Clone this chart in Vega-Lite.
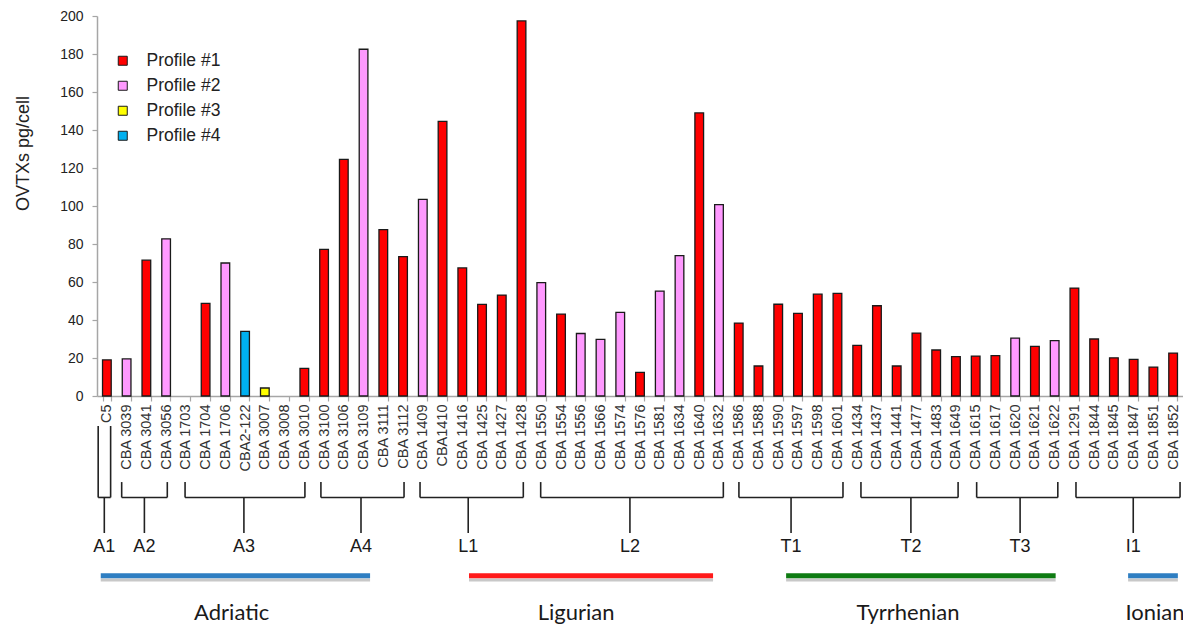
{
  "$schema": "https://vega.github.io/schema/vega-lite/v6.json",
  "autosize": {"type": "none"},
  "width": 1086,
  "height": 380,
  "padding": {"left": 97, "top": 16, "right": 0, "bottom": 228},
  "background": "white",
  "config": {"view": {"stroke": null}, "font": "Liberation Sans"},
  "datasets": {
    "bars": [
      {"strain": "C5", "ovtx": 19, "profile": "Profile #1"},
      {"strain": "CBA 3039", "ovtx": 19.5, "profile": "Profile #2"},
      {"strain": "CBA 3041", "ovtx": 71.5, "profile": "Profile #1"},
      {"strain": "CBA 3056", "ovtx": 82.7, "profile": "Profile #2"},
      {"strain": "CBA 1704", "ovtx": 48.7, "profile": "Profile #1"},
      {"strain": "CBA 1706", "ovtx": 70, "profile": "Profile #2"},
      {"strain": "CBA2-122", "ovtx": 34, "profile": "Profile #4"},
      {"strain": "CBA 3007", "ovtx": 4.2, "profile": "Profile #3"},
      {"strain": "CBA 3010", "ovtx": 14.5, "profile": "Profile #1"},
      {"strain": "CBA 3100", "ovtx": 77.2, "profile": "Profile #1"},
      {"strain": "CBA 3106", "ovtx": 124.5, "profile": "Profile #1"},
      {"strain": "CBA 3109", "ovtx": 182.5, "profile": "Profile #2"},
      {"strain": "CBA 3111", "ovtx": 87.6, "profile": "Profile #1"},
      {"strain": "CBA 3112", "ovtx": 73.4, "profile": "Profile #1"},
      {"strain": "CBA 1409", "ovtx": 103.5, "profile": "Profile #2"},
      {"strain": "CBA1410", "ovtx": 144.5, "profile": "Profile #1"},
      {"strain": "CBA 1416", "ovtx": 67.4, "profile": "Profile #1"},
      {"strain": "CBA 1425", "ovtx": 48.2, "profile": "Profile #1"},
      {"strain": "CBA 1427", "ovtx": 53.1, "profile": "Profile #1"},
      {"strain": "CBA 1428", "ovtx": 197.4, "profile": "Profile #1"},
      {"strain": "CBA 1550", "ovtx": 59.7, "profile": "Profile #2"},
      {"strain": "CBA 1554", "ovtx": 43.1, "profile": "Profile #1"},
      {"strain": "CBA 1556", "ovtx": 32.9, "profile": "Profile #2"},
      {"strain": "CBA 1566", "ovtx": 29.8, "profile": "Profile #2"},
      {"strain": "CBA 1574", "ovtx": 44, "profile": "Profile #2"},
      {"strain": "CBA 1576", "ovtx": 12.4, "profile": "Profile #1"},
      {"strain": "CBA 1581", "ovtx": 55.2, "profile": "Profile #2"},
      {"strain": "CBA 1634", "ovtx": 73.9, "profile": "Profile #2"},
      {"strain": "CBA 1640", "ovtx": 149, "profile": "Profile #1"},
      {"strain": "CBA 1632", "ovtx": 100.7, "profile": "Profile #2"},
      {"strain": "CBA 1586", "ovtx": 38.4, "profile": "Profile #1"},
      {"strain": "CBA 1588", "ovtx": 15.8, "profile": "Profile #1"},
      {"strain": "CBA 1590", "ovtx": 48.3, "profile": "Profile #1"},
      {"strain": "CBA 1597", "ovtx": 43.5, "profile": "Profile #1"},
      {"strain": "CBA 1598", "ovtx": 53.6, "profile": "Profile #1"},
      {"strain": "CBA 1601", "ovtx": 54, "profile": "Profile #1"},
      {"strain": "CBA 1434", "ovtx": 26.6, "profile": "Profile #1"},
      {"strain": "CBA 1437", "ovtx": 47.5, "profile": "Profile #1"},
      {"strain": "CBA 1441", "ovtx": 15.8, "profile": "Profile #1"},
      {"strain": "CBA 1477", "ovtx": 33.1, "profile": "Profile #1"},
      {"strain": "CBA 1483", "ovtx": 24.2, "profile": "Profile #1"},
      {"strain": "CBA 1649", "ovtx": 20.7, "profile": "Profile #1"},
      {"strain": "CBA 1615", "ovtx": 21, "profile": "Profile #1"},
      {"strain": "CBA 1617", "ovtx": 21.2, "profile": "Profile #1"},
      {"strain": "CBA 1620", "ovtx": 30.5, "profile": "Profile #2"},
      {"strain": "CBA 1621", "ovtx": 26.1, "profile": "Profile #1"},
      {"strain": "CBA 1622", "ovtx": 29.1, "profile": "Profile #2"},
      {"strain": "CBA 1291", "ovtx": 56.8, "profile": "Profile #1"},
      {"strain": "CBA 1844", "ovtx": 30, "profile": "Profile #1"},
      {"strain": "CBA 1845", "ovtx": 20.1, "profile": "Profile #1"},
      {"strain": "CBA 1847", "ovtx": 19.3, "profile": "Profile #1"},
      {"strain": "CBA 1851", "ovtx": 15.2, "profile": "Profile #1"},
      {"strain": "CBA 1852", "ovtx": 22.6, "profile": "Profile #1"}
    ],
    "brackets": [
      {"g": "A1", "left": -0.44, "right": 0.19, "mid": -0.13},
      {"g": "A2", "left": 0.75, "right": 3.06, "mid": 1.9},
      {"g": "A3", "left": 3.96, "right": 10.03, "mid": 6.94},
      {"g": "A4", "left": 10.84, "right": 15.05, "mid": 12.87},
      {"g": "L1", "left": 15.86, "right": 21.09, "mid": 18.3},
      {"g": "L2", "left": 21.97, "right": 31.22, "mid": 26.49},
      {"g": "T1", "left": 32.01, "right": 37.28, "mid": 34.65},
      {"g": "T2", "left": 38.19, "right": 43.11, "mid": 40.72},
      {"g": "T3", "left": 44.05, "right": 48.16, "mid": 46.25},
      {"g": "I1", "left": 49.08, "right": 54.35, "mid": 51.98}
    ],
    "seas": [
      {"sea": "Adriatic", "from": -0.31, "to": 13.33, "mid": 6.32},
      {"sea": "Ligurian", "from": 18.34, "to": 30.7, "mid": 23.76},
      {"sea": "Tyrrhenian", "from": 34.4, "to": 48.05, "mid": 40.57},
      {"sea": "Ionian", "from": 51.72, "to": 54.24, "mid": 53.08}
    ]
  },
  "layer": [
    {
      "data": {"name": "bars"},
      "mark": {"type": "bar", "stroke": "#1a1a1a", "strokeWidth": 1.3},
      "encoding": {
        "x": {
          "field": "strain", "type": "nominal", "sort": null,
          "scale": {
            "domain": ["C5", "CBA 3039", "CBA 3041", "CBA 3056", "CBA 1703", "CBA 1704", "CBA 1706", "CBA2-122", "CBA 3007", "CBA 3008", "CBA 3010", "CBA 3100", "CBA 3106", "CBA 3109", "CBA 3111", "CBA 3112", "CBA 1409", "CBA1410", "CBA 1416", "CBA 1425", "CBA 1427", "CBA 1428", "CBA 1550", "CBA 1554", "CBA 1556", "CBA 1566", "CBA 1574", "CBA 1576", "CBA 1581", "CBA 1634", "CBA 1640", "CBA 1632", "CBA 1586", "CBA 1588", "CBA 1590", "CBA 1597", "CBA 1598", "CBA 1601", "CBA 1434", "CBA 1437", "CBA 1441", "CBA 1477", "CBA 1483", "CBA 1649", "CBA 1615", "CBA 1617", "CBA 1620", "CBA 1621", "CBA 1622", "CBA 1291", "CBA 1844", "CBA 1845", "CBA 1847", "CBA 1851", "CBA 1852"],
            "paddingInner": 0.56, "paddingOuter": 0.28
          },
          "axis": {
            "title": null, "labelAngle": -90, "labelAlign": "right", "labelBaseline": "middle",
            "labelFont": "Liberation Sans", "labelFontSize": 14.5, "labelColor": "#333333",
            "labelPadding": 3, "labelOverlap": false, "labelLimit": 0,
            "tickBand": "extent", "tickSize": 5, "tickColor": "#a6a6a6", "tickWidth": 1.2,
            "domainColor": "#a6a6a6", "domainWidth": 1.5
          }
        },
        "y": {
          "field": "ovtx", "type": "quantitative",
          "scale": {"domain": [0, 200], "nice": false},
          "axis": {
            "title": "OVTXs pg/cell", "values": [0, 20, 40, 60, 80, 100, 120, 140, 160, 180, 200],
            "grid": false, "tickSize": 5, "tickColor": "#a6a6a6", "tickWidth": 1.2,
            "domainColor": "#a6a6a6", "domainWidth": 1.5,
            "labelFont": "Liberation Sans", "labelFontSize": 14, "labelColor": "#222222", "labelPadding": 9,
            "titleFont": "Liberation Sans", "titleFontSize": 18, "titleFontWeight": "normal", "titleColor": "#222222",
            "titleX": -74, "titleY": 137, "titleAlign": "center", "titleBaseline": "middle"
          }
        },
        "fill": {
          "field": "profile", "type": "nominal",
          "scale": {"domain": ["Profile #1", "Profile #2", "Profile #3", "Profile #4"], "range": ["#ff0000", "#ff99ff", "#ffff00", "#00b0f0"]},
          "legend": {
            "title": null, "orient": "none", "legendX": 17, "legendY": 36, "padding": 0,
            "symbolType": "square", "symbolSize": 81, "symbolStrokeColor": "#1a1a1a", "symbolStrokeWidth": 1,
            "labelFont": "Liberation Sans", "labelFontSize": 17.5, "labelColor": "#222222", "labelOffset": 15,
            "rowPadding": 6
          }
        }
      }
    },
    {
      "data": {"name": "brackets"},
      "transform": [{"filter": "datum.g !== 'A1'"}, {"fold": ["left", "right"], "as": ["side", "pos"]}],
      "mark": {"type": "rule", "stroke": "#222222", "strokeWidth": 1.6},
      "encoding": {
        "x": {"field": "pos", "type": "quantitative", "scale": {"domain": [-0.5, 54.5], "nice": false, "zero": false}, "axis": null},
        "y": {"datum": -45.3, "type": "quantitative", "scale": {"domain": [0, 200], "nice": false}, "axis": null},
        "y2": {"datum": -53.4}
      }
    },
    {
      "data": {"name": "brackets"},
      "transform": [{"filter": "datum.g === 'A1'"}, {"fold": ["left", "right"], "as": ["side", "pos"]}],
      "mark": {"type": "rule", "stroke": "#222222", "strokeWidth": 1.6},
      "encoding": {
        "x": {"field": "pos", "type": "quantitative", "scale": {"domain": [-0.5, 54.5], "nice": false, "zero": false}, "axis": null},
        "y": {"datum": -15.8, "type": "quantitative", "scale": {"domain": [0, 200], "nice": false}, "axis": null},
        "y2": {"datum": -53.4}
      }
    },
    {
      "data": {"name": "brackets"},
      "mark": {"type": "rule", "stroke": "#222222", "strokeWidth": 1.6},
      "encoding": {
        "x": {"field": "left", "type": "quantitative", "scale": {"domain": [-0.5, 54.5], "nice": false, "zero": false}, "axis": null},
        "x2": {"field": "right"},
        "y": {"datum": -53.4, "type": "quantitative", "scale": {"domain": [0, 200], "nice": false}, "axis": null}
      }
    },
    {
      "data": {"name": "brackets"},
      "mark": {"type": "rule", "stroke": "#222222", "strokeWidth": 1.6},
      "encoding": {
        "x": {"field": "mid", "type": "quantitative", "scale": {"domain": [-0.5, 54.5], "nice": false, "zero": false}, "axis": null},
        "y": {"datum": -53.4, "type": "quantitative", "scale": {"domain": [0, 200], "nice": false}, "axis": null},
        "y2": {"datum": -72.1}
      }
    },
    {
      "data": {"name": "brackets"},
      "mark": {"type": "text", "font": "Liberation Sans", "fontSize": 18, "color": "#1a1a1a", "baseline": "alphabetic", "align": "center"},
      "encoding": {
        "x": {"field": "mid", "type": "quantitative", "scale": {"domain": [-0.5, 54.5], "nice": false, "zero": false}, "axis": null},
        "y": {"datum": -81.9, "type": "quantitative", "scale": {"domain": [0, 200], "nice": false}, "axis": null},
        "text": {"field": "g"}
      }
    },
    {
      "data": {"name": "seas"},
      "mark": {"type": "rule", "stroke": "#c8c8c8", "strokeWidth": 3},
      "encoding": {
        "x": {"field": "from", "type": "quantitative", "scale": {"domain": [-0.5, 54.5], "nice": false, "zero": false}, "axis": null},
        "x2": {"field": "to"},
        "y": {"datum": -96.8, "type": "quantitative", "scale": {"domain": [0, 200], "nice": false}, "axis": null}
      }
    },
    {
      "data": {"name": "seas"},
      "mark": {"type": "rule", "strokeWidth": 5},
      "encoding": {
        "x": {"field": "from", "type": "quantitative", "scale": {"domain": [-0.5, 54.5], "nice": false, "zero": false}, "axis": null},
        "x2": {"field": "to"},
        "y": {"datum": -94.6, "type": "quantitative", "scale": {"domain": [0, 200], "nice": false}, "axis": null},
        "stroke": {"field": "sea", "type": "nominal", "scale": {"domain": ["Adriatic", "Ligurian", "Tyrrhenian", "Ionian"], "range": ["#2e7ec2", "#ff1a1a", "#0e7b12", "#2e7ec2"]}, "legend": null}
      }
    },
    {
      "data": {"name": "seas"},
      "mark": {"type": "text", "font": "Lato", "fontSize": 22, "color": "#1a1a1a", "baseline": "alphabetic", "align": "center"},
      "encoding": {
        "x": {"field": "mid", "type": "quantitative", "scale": {"domain": [-0.5, 54.5], "nice": false, "zero": false}, "axis": null},
        "y": {"datum": -117.9, "type": "quantitative", "scale": {"domain": [0, 200], "nice": false}, "axis": null},
        "text": {"field": "sea"}
      }
    }
  ],
  "resolve": {"scale": {"x": "independent", "y": "independent"}}
}
